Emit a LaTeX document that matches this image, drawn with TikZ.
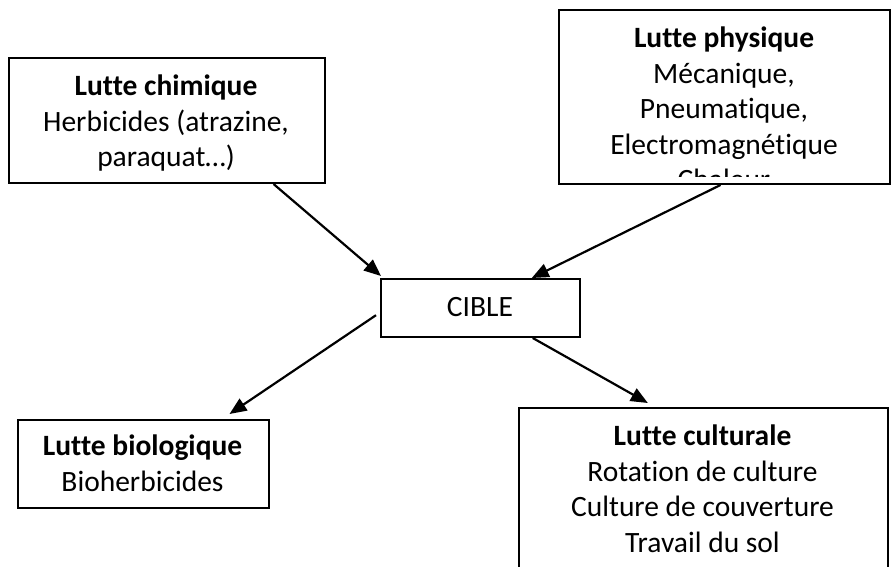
\documentclass[tikz,border=0pt]{standalone}
\usepackage{fontspec}
\setmainfont[Ligatures=CommonOff]{Carlito}
\usetikzlibrary{arrows.meta,calc}
\begin{document}
\begin{tikzpicture}[x=1pt,y=-1pt,
  box/.style={draw=black,line width=2pt,rectangle,inner sep=0pt,anchor=north west},
  txt/.style={align=center,inner sep=0pt,anchor=north,font=\fontsize{29.5}{35.5}\selectfont},
  arr/.style={line width=2.2pt,-{Triangle[length=17pt,width=14pt]}}]
\useasboundingbox (0,0) rectangle (891,567);
\clip (0,0) rectangle (891,567);
% boxes
\node[box,minimum width=316pt,minimum height=125pt] (chim) at (8,57) {};
\node[box,minimum width=331pt,minimum height=174pt] (phys) at (558,9) {};
\node[box,minimum width=199pt,minimum height=58pt] (cible) at (380,278) {};
\node[box,minimum width=251pt,minimum height=88pt] (bio) at (17,419) {};
\node[box,minimum width=369pt,minimum height=200pt] (cult) at (518,407) {};
% texts
\node[txt] (chimT) at (166,75) {\textbf{Lutte chimique}\\Herbicides (atrazine,\\paraquat…)};
\begin{scope}
\clip (558,9) rectangle (889,176.5);
\node[txt] (physT) at (724,27) {\textbf{Lutte physique}\\Mécanique,\\Pneumatique,\\Electromagnétique\\Chaleur};
\end{scope}
\node[txt,anchor=base] (cibleT) at (480,316) {CIBLE};
\node[txt] (bioT) at (142.5,435) {\textbf{Lutte biologique}\\Bioherbicides};
\node[txt] (cultT) at (702.5,425) {\textbf{Lutte culturale}\\Rotation de culture\\Culture de couverture\\Travail du sol};
% arrows
\draw[arr] ($(chim.south west)!0.835!(chim.south east)$) -- ($(cible.north west)+(1,-2)$);
\draw[arr] ($(phys.south)+(-4,0)$) -- ($(cible.north west)!0.755!(cible.north east)$);
\draw[arr] ($(cible.north west)!0.62!(cible.south west)+(-4,0)$) -- ($(bio.north west)!0.84!(bio.north east)+(0,-5)$);
\draw[arr] ($(cible.south west)!0.76!(cible.south east)$) -- ($(cult.north west)!0.35!(cult.north east)+(0,-4)$);
\end{tikzpicture}
\end{document}
